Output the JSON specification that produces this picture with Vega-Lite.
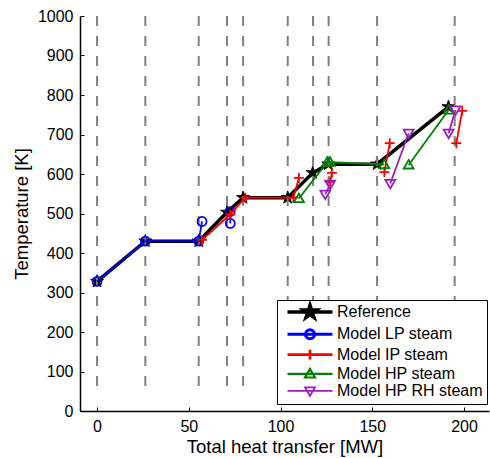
{
  "$schema": "https://vega.github.io/schema/vega-lite/v6.json",
  "width": 409,
  "height": 395,
  "autosize": {"type": "none"},
  "padding": {"left": 80, "top": 16, "right": 1, "bottom": 47},
  "background": "white",
  "config": {
    "view": {"stroke": null},
    "font": "Liberation Sans",
    "axis": {
      "grid": false,
      "domainColor": "black",
      "domainWidth": 1.5,
      "tickColor": "black",
      "tickWidth": 1,
      "tickSize": -4,
      "labelFont": "Liberation Sans",
      "labelFontSize": 16,
      "labelColor": "black",
      "labelFlush": false,
      "labelOverlap": false,
      "titleFont": "Liberation Sans",
      "titleFontSize": 18.5,
      "titleFontWeight": "normal",
      "titleColor": "black"
    },
    "legend": {
      "padding": 4,
      "strokeColor": "black",
      "fillColor": "white",
      "symbolSize": 81,
      "symbolOffset": 3,
      "labelFont": "Liberation Sans",
      "labelFontSize": 16,
      "labelColor": "black",
      "labelOffset": 37,
      "labelLimit": 0,
      "rowPadding": -1.7
    }
  },
  "datasets": {
    "curves": [
      {"s": "Reference", "g": "a", "q": 0, "T": 328},
      {"s": "Reference", "g": "a", "q": 26.3, "T": 430},
      {"s": "Reference", "g": "a", "q": 55.4, "T": 430},
      {"s": "Reference", "g": "a", "q": 70.8, "T": 503},
      {"s": "Reference", "g": "a", "q": 79.6, "T": 540},
      {"s": "Reference", "g": "a", "q": 103.9, "T": 540},
      {"s": "Reference", "g": "a", "q": 117.5, "T": 603},
      {"s": "Reference", "g": "a", "q": 126, "T": 625},
      {"s": "Reference", "g": "a", "q": 152.6, "T": 625},
      {"s": "Reference", "g": "a", "q": 191.5, "T": 770},

      {"s": "LP", "g": "a", "q": 0, "T": 328},
      {"s": "LP", "g": "a", "q": 26.3, "T": 430},
      {"s": "LP", "g": "a", "q": 55.4, "T": 430},
      {"s": "LP", "g": "a", "q": 57.2, "T": 480},
      {"s": "LP", "g": "b", "q": 72.6, "T": 475},
      {"s": "LP", "g": "b", "q": 72.6, "T": 505},

      {"s": "IP", "g": "a", "q": 57.2, "T": 433},
      {"s": "IP", "g": "a", "q": 72.6, "T": 498},
      {"s": "IP", "g": "a", "q": 80.8, "T": 540},
      {"s": "IP", "g": "a", "q": 107, "T": 540},
      {"s": "IP", "g": "a", "q": 110, "T": 590},
      {"s": "IP", "g": "b", "q": 127, "T": 580},
      {"s": "IP", "g": "b", "q": 128, "T": 603},
      {"s": "IP", "g": "c", "q": 156.6, "T": 605},
      {"s": "IP", "g": "c", "q": 159.5, "T": 678},
      {"s": "IP", "g": "d", "q": 195.8, "T": 678},
      {"s": "IP", "g": "d", "q": 199, "T": 760},

      {"s": "HP", "g": "a", "q": 110, "T": 538},
      {"s": "HP", "g": "a", "q": 125.4, "T": 630},
      {"s": "HP", "g": "a", "q": 127, "T": 630},
      {"s": "HP", "g": "a", "q": 156.5, "T": 624},
      {"s": "HP", "g": "b", "q": 169.8, "T": 623},
      {"s": "HP", "g": "b", "q": 191.6, "T": 762},

      {"s": "HPRH", "g": "a", "q": 124.4, "T": 549},
      {"s": "HPRH", "g": "a", "q": 127, "T": 574},
      {"s": "HPRH", "g": "b", "q": 159.8, "T": 576},
      {"s": "HPRH", "g": "b", "q": 169.8, "T": 703},
      {"s": "HPRH", "g": "c", "q": 191.6, "T": 703},
      {"s": "HPRH", "g": "c", "q": 195.3, "T": 762}
    ],
    "dividers": [
      {"q": 0}, {"q": 26.3}, {"q": 55.4}, {"q": 70.8}, {"q": 79.6},
      {"q": 103.9}, {"q": 117.7}, {"q": 126.2}, {"q": 152.6}, {"q": 194.9}
    ]
  },
  "data": {"name": "curves"},
  "layer": [
    {
      "transform": [{"filter": "datum.s === 'Reference'"}],
      "mark": {
        "type": "line",
        "color": "black",
        "strokeWidth": 3.5,
        "point": {
          "shape": "M0,-1.5L0.335,-0.461L1.427,-0.464L0.542,0.176L0.882,1.214L0,0.57L-0.882,1.214L-0.542,0.176L-1.427,-0.464L-0.335,-0.461Z",
          "size": 81,
          "filled": true,
          "fill": "black",
          "stroke": "black",
          "strokeWidth": 1,
          "opacity": 1
        }
      },
      "encoding": {
        "x": {
          "field": "q",
          "type": "quantitative",
          "scale": {"domain": [-9.3, 213.6], "nice": false, "zero": false},
          "axis": {"values": [0, 50, 100, 150, 200], "format": "d", "title": "Total heat transfer [MW]", "labelPadding": 11, "titlePadding": 3}
        },
        "y": {
          "field": "T",
          "type": "quantitative",
          "scale": {"domain": [0, 1000], "nice": false, "zero": false},
          "axis": {"values": [0, 100, 200, 300, 400, 500, 600, 700, 800, 900, 1000], "format": "d", "title": "Temperature [K]", "labelPadding": 11, "titlePadding": 6}
        },
        "detail": {"field": "g"}
      }
    },
    {
      "data": {"name": "dividers"},
      "mark": {"type": "rule", "color": "#808080", "strokeWidth": 2, "strokeDash": [10, 10]},
      "encoding": {
        "x": {
          "field": "q",
          "type": "quantitative",
          "axis": {"values": [0, 50, 100, 150, 200], "format": "d", "title": "Total heat transfer [MW]", "labelPadding": 11, "titlePadding": 3}
        },
        "y": {
          "datum": 1000,
          "type": "quantitative",
          "axis": {"values": [0, 100, 200, 300, 400, 500, 600, 700, 800, 900, 1000], "format": "d", "title": "Temperature [K]", "labelPadding": 11, "titlePadding": 6}
        },
        "y2": {"datum": 50}
      }
    },
    {
      "transform": [{"filter": "datum.s === 'LP'"}],
      "mark": {
        "type": "line",
        "color": "#0000ff",
        "strokeWidth": 1.8,
        "point": {
          "shape": "M1,0A1,1,0,1,1,-1,0A1,1,0,1,1,1,0Z",
          "size": 81,
          "filled": false,
          "fill": "transparent",
          "stroke": "#0000ff",
          "strokeWidth": 1.8,
          "opacity": 1
        }
      },
      "encoding": {
        "x": {
          "field": "q",
          "type": "quantitative",
          "axis": {"values": [0, 50, 100, 150, 200], "format": "d", "title": "Total heat transfer [MW]", "labelPadding": 11, "titlePadding": 3}
        },
        "y": {
          "field": "T",
          "type": "quantitative",
          "axis": {"values": [0, 100, 200, 300, 400, 500, 600, 700, 800, 900, 1000], "format": "d", "title": "Temperature [K]", "labelPadding": 11, "titlePadding": 6}
        },
        "detail": {"field": "g"}
      }
    },
    {
      "transform": [{"filter": "datum.s === 'IP'"}],
      "mark": {
        "type": "line",
        "color": "#ff0000",
        "strokeWidth": 1.8,
        "point": {
          "shape": "M0,-1.1V1.1M-1.1,0H1.1",
          "size": 81,
          "filled": false,
          "fill": "transparent",
          "stroke": "#ff0000",
          "strokeWidth": 1.8,
          "opacity": 1
        }
      },
      "encoding": {
        "x": {
          "field": "q",
          "type": "quantitative",
          "axis": {"values": [0, 50, 100, 150, 200], "format": "d", "title": "Total heat transfer [MW]", "labelPadding": 11, "titlePadding": 3}
        },
        "y": {
          "field": "T",
          "type": "quantitative",
          "axis": {"values": [0, 100, 200, 300, 400, 500, 600, 700, 800, 900, 1000], "format": "d", "title": "Temperature [K]", "labelPadding": 11, "titlePadding": 6}
        },
        "detail": {"field": "g"}
      }
    },
    {
      "transform": [{"filter": "datum.s === 'HP'"}],
      "mark": {
        "type": "line",
        "color": "#008000",
        "strokeWidth": 1.8,
        "point": {
          "shape": "M0,-1.1L1.1,0.8L-1.1,0.8Z",
          "size": 81,
          "filled": false,
          "fill": "transparent",
          "stroke": "#008000",
          "strokeWidth": 1.8,
          "opacity": 1
        }
      },
      "encoding": {
        "x": {
          "field": "q",
          "type": "quantitative",
          "axis": {"values": [0, 50, 100, 150, 200], "format": "d", "title": "Total heat transfer [MW]", "labelPadding": 11, "titlePadding": 3}
        },
        "y": {
          "field": "T",
          "type": "quantitative",
          "axis": {"values": [0, 100, 200, 300, 400, 500, 600, 700, 800, 900, 1000], "format": "d", "title": "Temperature [K]", "labelPadding": 11, "titlePadding": 6}
        },
        "detail": {"field": "g"}
      }
    },
    {
      "transform": [{"filter": "datum.s === 'HPRH'"}],
      "mark": {
        "type": "line",
        "color": "#9b1fbf",
        "strokeWidth": 1.8,
        "point": {
          "shape": "M0,1.1L1.1,-0.8L-1.1,-0.8Z",
          "size": 81,
          "filled": false,
          "fill": "transparent",
          "stroke": "#9b1fbf",
          "strokeWidth": 1.8,
          "opacity": 1
        }
      },
      "encoding": {
        "x": {
          "field": "q",
          "type": "quantitative",
          "axis": {"values": [0, 50, 100, 150, 200], "format": "d", "title": "Total heat transfer [MW]", "labelPadding": 11, "titlePadding": 3}
        },
        "y": {
          "field": "T",
          "type": "quantitative",
          "axis": {"values": [0, 100, 200, 300, 400, 500, 600, 700, 800, 900, 1000], "format": "d", "title": "Temperature [K]", "labelPadding": 11, "titlePadding": 6}
        },
        "detail": {"field": "g"}
      }
    },
    {
      "data": {"values": []},
      "mark": {"type": "point", "opacity": 1},
      "encoding": {
        "x": {
          "field": "q",
          "type": "quantitative",
          "axis": {"values": [0, 50, 100, 150, 200], "format": "d", "title": "Total heat transfer [MW]", "labelPadding": 11, "titlePadding": 3}
        },
        "y": {
          "field": "T",
          "type": "quantitative",
          "axis": {"values": [0, 100, 200, 300, 400, 500, 600, 700, 800, 900, 1000], "format": "d", "title": "Temperature [K]", "labelPadding": 11, "titlePadding": 6}
        },
        "shape": {
          "field": "s",
          "type": "nominal",
          "scale": {
            "domain": ["Reference", "LP", "IP", "HP", "HPRH"],
            "range": [
              "M-1,0H9M4,-1.5L4.335,-0.461L5.427,-0.464L4.542,0.176L4.882,1.214L4,0.57L3.118,1.214L3.458,0.176L2.573,-0.464L3.665,-0.461Z",
              "M-1,0H9M5,0A1,1,0,1,1,3,0A1,1,0,1,1,5,0Z",
              "M-1,0H9M4,-1.1V1.1",
              "M-1,0H9M4,-1.1L5.1,0.8L2.9,0.8Z",
              "M-1,0H9M4,1.1L5.1,-0.8L2.9,-0.8Z"
            ]
          },
          "legend": {
            "title": null,
            "orient": "none",
            "legendX": 197,
            "legendY": 284,
            "labelExpr": "{'Reference': 'Reference', 'LP': 'Model LP steam', 'IP': 'Model IP steam', 'HP': 'Model HP steam', 'HPRH': 'Model HP RH steam'}[datum.label]"
          }
        },
        "stroke": {
          "field": "s",
          "type": "nominal",
          "scale": {
            "domain": ["Reference", "LP", "IP", "HP", "HPRH"],
            "range": ["#000000", "#0000ff", "#ff0000", "#008000", "#9b1fbf"]
          },
          "legend": {"title": null}
        },
        "fill": {
          "field": "s",
          "type": "nominal",
          "scale": {
            "domain": ["Reference", "LP", "IP", "HP", "HPRH"],
            "range": ["#000000", "transparent", "transparent", "transparent", "transparent"]
          },
          "legend": {"title": null}
        },
        "strokeWidth": {
          "field": "s",
          "type": "nominal",
          "scale": {
            "domain": ["Reference", "LP", "IP", "HP", "HPRH"],
            "range": [3.5, 1.8, 1.8, 1.8, 1.8]
          },
          "legend": {"title": null}
        }
      }
    }
  ]
}
